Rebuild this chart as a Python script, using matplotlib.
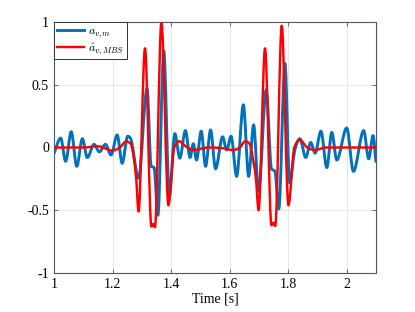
import matplotlib
matplotlib.use("Agg")
import matplotlib.pyplot as plt
import numpy as np
from matplotlib.path import Path
from matplotlib.patches import PathPatch
from matplotlib.lines import Line2D

t_meas = [1.000, 1.023, 1.040, 1.059, 1.078, 1.097, 1.114, 1.137, 1.155, 1.176,
          1.195, 1.216, 1.233, 1.252, 1.262, 1.289, 1.318, 1.332, 1.342, 1.355,
          1.375, 1.394, 1.413, 1.430, 1.449, 1.465, 1.476, 1.487, 1.503, 1.518,
          1.535, 1.552, 1.576, 1.590, 1.605, 1.624, 1.647, 1.665, 1.682, 1.699,
          1.725, 1.743, 1.755, 1.768, 1.789, 1.805, 1.822, 1.840, 1.860, 1.877,
          1.892, 1.912, 1.932, 1.949, 1.966, 2.000, 2.023, 2.058, 2.075, 2.090,
          2.100]
a_meas = [-0.05, 0.075, -0.11, 0.126, -0.15, 0.07, -0.08, 0.025, -0.035, 0.025,
          -0.06, 0.10, -0.126, 0.09, 0.07, -0.245, 0.47, -0.15, -0.16, -0.54,
          0.77, -0.38, 0.11, -0.085, 0.135, -0.08, 0.03, -0.10, 0.13, -0.15,
          0.14, -0.17, 0.085, -0.02, 0.09, -0.23, 0.34, -0.23, 0.18, -0.35,
          0.46, -0.17, -0.19, -0.49, 0.67, -0.28, -0.03, 0.07, -0.08, 0.04,
          -0.045, 0.13, -0.16, 0.12, -0.10, 0.155, -0.19, 0.135, -0.09, 0.095,
          -0.12]

# MBS estimate \hat a_{v,MBS}
t_mbs = [1.000, 1.100, 1.150, 1.200, 1.225, 1.247, 1.262, 1.272, 1.281, 1.289,
         1.311, 1.333, 1.339, 1.345, 1.367, 1.391, 1.411, 1.427, 1.450, 1.478,
         1.527, 1.575, 1.612, 1.635, 1.654, 1.668, 1.678, 1.690, 1.699, 1.721,
         1.743, 1.749, 1.756, 1.778, 1.801, 1.821, 1.840, 1.865, 1.892, 1.930,
         2.100]
a_mbs = [0.0, 0.0, 0.01, -0.025, 0.0, 0.048, 0.03, -0.07, -0.25, -0.51,
         0.79, -0.63, -0.61, -0.635, 1.0, -0.46, 0.0, 0.05, 0.01, -0.02,
         0.0, -0.005, -0.02, 0.0, 0.05, 0.03, -0.07, -0.25, -0.50, 0.79,
         -0.62, -0.60, -0.625, 0.97, -0.46, 0.0, 0.06, 0.0, -0.02, 0.0,
         0.0]

labels = [r"$a_{v,m}$", r"$\hat{a}_{v,MBS}$"]
colors = ["#0072BD", "#FF0000"]
xticks = [1, 1.2, 1.4, 1.6, 1.8, 2]
xticklabels = ["1", "1.2", "1.4", "1.6", "1.8", "2"]
yticks = [-1, -0.5, 0, 0.5, 1]
yticklabels = ["-1", "-0.5", "0", "0.5", "1"]


def smooth_path(x, y):
    """Monotone cubic (curveMonotoneX-like) Bezier path through the points."""
    x = np.asarray(x, float)
    y = np.asarray(y, float)
    h = np.diff(x)
    s = np.diff(y) / h
    n = len(x)
    m = np.zeros(n)
    for i in range(1, n - 1):
        s0, s1 = s[i - 1], s[i]
        if s0 * s1 <= 0:
            m[i] = 0.0
        else:
            p = (s0 * h[i] + s1 * h[i - 1]) / (h[i - 1] + h[i])
            m[i] = np.sign(s0) * min(abs(s0), abs(s1), 0.5 * abs(p)) * 2
    m[0] = s[0]
    m[-1] = s[-1]
    verts = [(x[0], y[0])]
    codes = [Path.MOVETO]
    for i in range(n - 1):
        d = h[i] / 3.0
        verts += [(x[i] + d, y[i] + m[i] * d),
                  (x[i + 1] - d, y[i + 1] - m[i + 1] * d),
                  (x[i + 1], y[i + 1])]
        codes += [Path.CURVE4] * 3
    return Path(verts, codes)


plt.rcParams["font.family"] = ["Liberation Serif", "DejaVu Serif"]
plt.rcParams["mathtext.fontset"] = "cm"

fig = plt.figure(figsize=(4.15, 3.12), dpi=100)
ax = fig.add_axes([0.130, 0.125, 0.776, 0.8045])

widths = [2.1, 1.75]
for (tx, ty), c, w in zip([(t_meas, a_meas), (t_mbs, a_mbs)], colors, widths):
    patch = PathPatch(smooth_path(tx, ty), facecolor="none", edgecolor=c,
                      lw=w, joinstyle="round", capstyle="butt",
                      transform=ax.transData, clip_on=True)
    ax.add_patch(patch)

ax.set_xlim(1, 2.1)
ax.set_ylim(-1, 1)
ax.set_xticks(xticks)
ax.set_xticklabels(xticklabels)
ax.set_yticks(yticks)
ax.set_yticklabels(yticklabels)
ax.grid(True, color="#e6e6e6", lw=0.7)
ax.set_axisbelow(True)
ax.tick_params(direction="in", length=3, width=0.6, colors="#555555",
               labelcolor="black", labelsize=10, top=True, right=True)
for sp in ax.spines.values():
    sp.set_color("#555555")
    sp.set_linewidth(0.8)
ax.set_xlabel("Time [s]", fontsize=10, labelpad=1)

handles = [Line2D([], [], color=c, lw=w) for c, w in zip(colors, widths)]
leg = ax.legend(handles, labels, loc="upper left", fontsize=8.5, frameon=True,
                fancybox=False, edgecolor="#333333", framealpha=1,
                borderaxespad=0.0, handlelength=2.3, handletextpad=0.3,
                borderpad=0.25, labelspacing=0.1)
leg.get_frame().set_linewidth(0.7)

fig.savefig("out.png", dpi=100)
